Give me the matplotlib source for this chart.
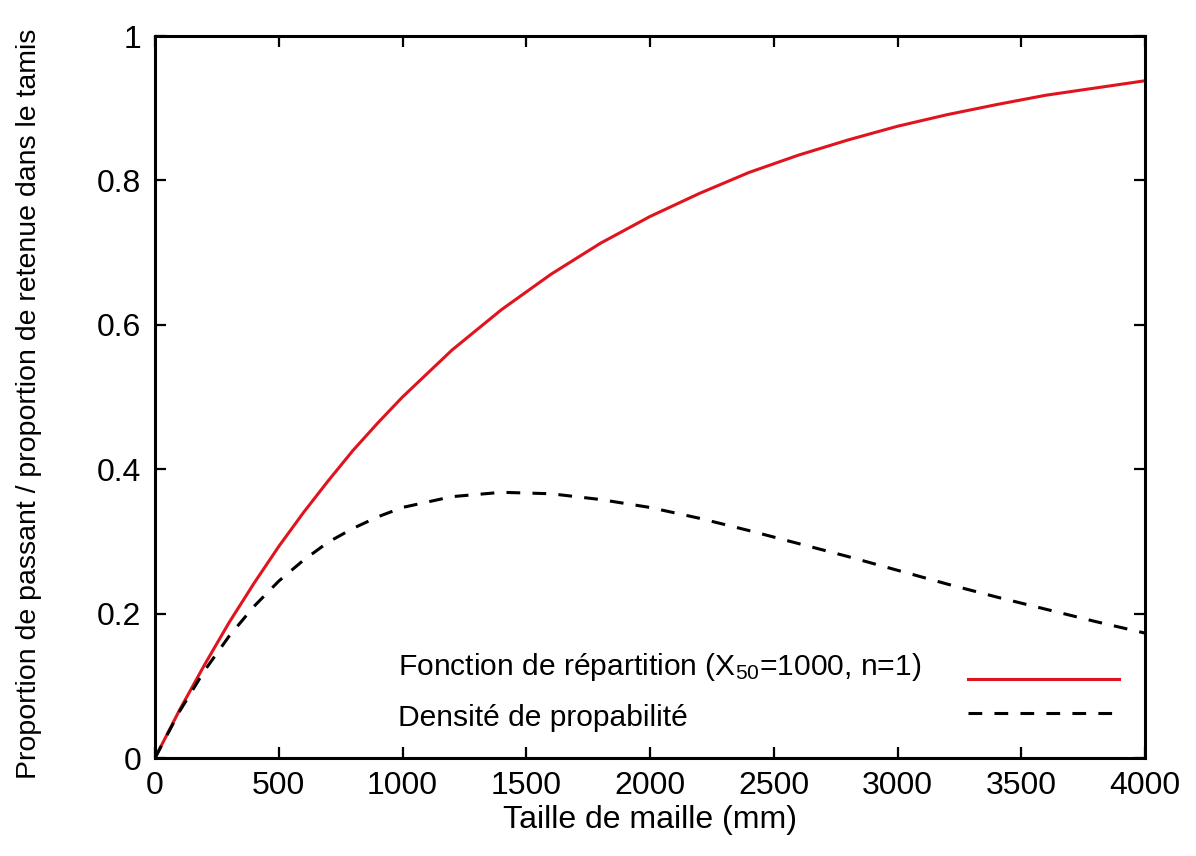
import matplotlib
matplotlib.use('Agg')
import matplotlib.pyplot as plt

# valeurs
taille = [0, 100, 200, 300, 400, 500, 600, 700, 800, 900, 1000,
          1200, 1400, 1600, 1800, 2000, 2200, 2400, 2600, 2800, 3000,
          3200, 3400, 3600, 3800, 4000]
repartition = [0, 0.067, 0.129, 0.188, 0.242, 0.293, 0.340, 0.384, 0.426, 0.464, 0.500,
               0.565, 0.621, 0.670, 0.713, 0.750, 0.782, 0.811, 0.835, 0.856, 0.875,
               0.891, 0.905, 0.918, 0.928, 0.938]
densite = [0, 0.065, 0.121, 0.169, 0.210, 0.245, 0.274, 0.299, 0.318, 0.334, 0.347,
           0.362, 0.368, 0.366, 0.358, 0.347, 0.332, 0.315, 0.297, 0.279, 0.260,
           0.241, 0.223, 0.206, 0.189, 0.173]

xticks = [0, 500, 1000, 1500, 2000, 2500, 3000, 3500, 4000]
yticks = [0, 0.2, 0.4, 0.6, 0.8, 1]
ylabels = ['0', '0.2', '0.4', '0.6', '0.8', '1']
legendes = ['Fonction de répartition (X$_{50}$=1000, n=1)', 'Densité de propabilité']

plt.rcParams['font.family'] = ['Liberation Sans', 'DejaVu Sans']
plt.rcParams['mathtext.fontset'] = 'custom'
plt.rcParams['mathtext.rm'] = 'Liberation Sans'
plt.rcParams['mathtext.default'] = 'regular'

fig = plt.figure(figsize=(11.96, 8.56), dpi=100)
ax = fig.add_axes([155 / 1196, 1 - 758 / 856, 990 / 1196, 722 / 856])

l1, = ax.plot(taille, repartition, color='#e0141e', linewidth=2.2)
l2, = ax.plot(taille, densite, color='black', linewidth=2.2, dashes=(4.5, 4))

ax.set_xlim(0, 4000)
ax.set_ylim(0, 1)
ax.set_xticks(xticks)
ax.set_yticks(yticks)
ax.set_yticklabels(ylabels)
ax.tick_params(direction='in', length=8, width=1.6, top=True, right=True,
               labelsize=23, colors='black')
ax.tick_params(axis='x', pad=9)
ax.tick_params(axis='y', pad=10)
for s in ax.spines.values():
    s.set_linewidth(2.2)

ax.set_xlabel('Taille de maille (mm)', fontsize=23, labelpad=3)
ax.set_ylabel('Proportion de passant / proportion de retenue dans le tamis',
              fontsize=20.5)
ax.yaxis.set_label_coords(-0.114, 0.49)

# textes de la légende alignés à gauche, traits à droite
ax.text(0.2455, 0.126, legendes[0], transform=ax.transAxes, fontsize=21.6,
        va='center', ha='left')
ax.text(0.2455, 0.055, legendes[1], transform=ax.transAxes, fontsize=21.6,
        va='center', ha='left')
ax.legend([l1, l2], ['', ''], loc='lower left', bbox_to_anchor=(0.821, 0.04),
          frameon=False, fontsize=21, handlelength=5.2, handletextpad=0,
          borderpad=0, borderaxespad=0, labelspacing=0.2)

fig.savefig('out.png', dpi=100)
